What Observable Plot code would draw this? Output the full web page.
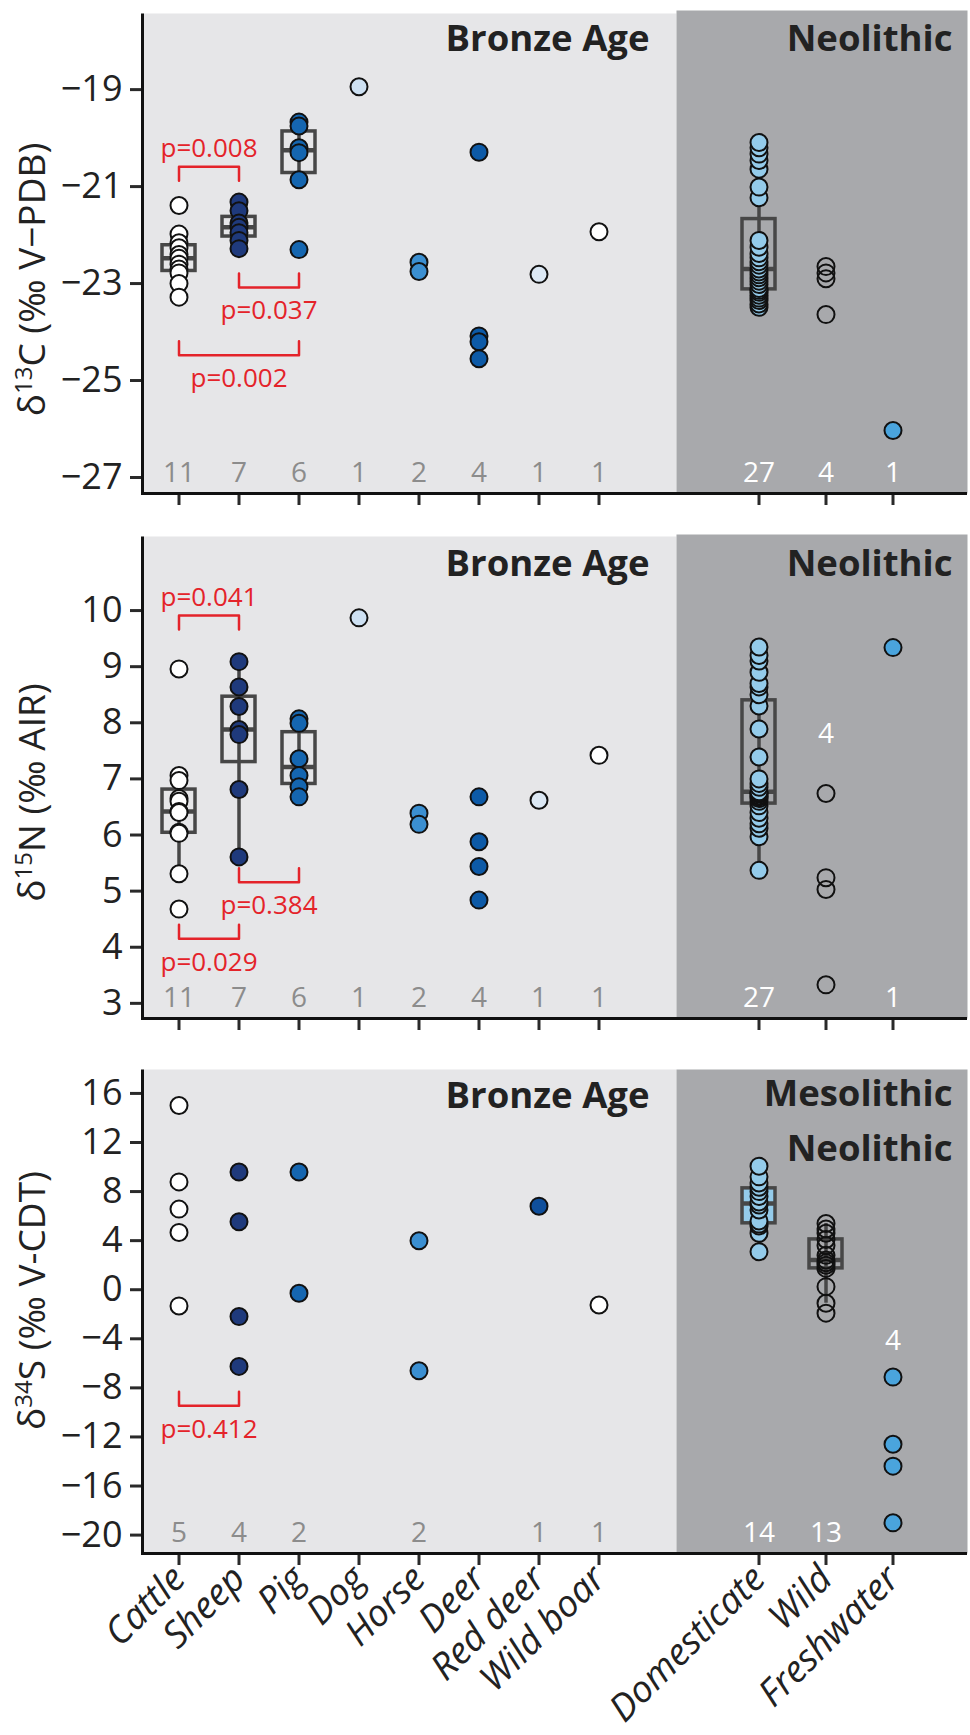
<!DOCTYPE html>
<html><head><meta charset="utf-8">
<script src="https://cdn.jsdelivr.net/npm/d3@7"></script>
<script src="https://cdn.jsdelivr.net/npm/@observablehq/plot@0.6"></script>
<style>
body{margin:0;background:#fff;}
#chart{position:relative;width:970px;height:1735px;}
#chart svg{overflow:visible;}
[aria-label^="y-axis"] line,[aria-label^="x-axis"] line,[aria-label^="y-axis"] path,[aria-label^="x-axis"] path{stroke:#2a2a2a;stroke-width:3px;}
.xl [aria-label^="x-axis"] text{font-style:italic;font-size:37px;}
</style></head><body><div id="chart"></div><script>
// ---------- categories ----------
const bronzeCats = ["Cattle","Sheep","Pig","Dog","Horse","Deer","Red deer","Wild boar"];
const neoCats = ["Domesticate","Wild","Freshwater"];

// ---------- δ13C values ----------
const c13Cattle = [-21.39,-21.98,-22.16,-22.26,-22.40,-22.48,-22.60,-22.70,-22.78,-23.00,-23.28];
const c13Sheep = [-21.32,-21.50,-21.75,-21.84,-21.95,-22.11,-22.28];
const c13Pig = [-19.67,-19.75,-20.20,-20.30,-20.86,-22.30];
const c13Dog = [-18.94];
const c13Horse = [-22.56,-22.75];
const c13Deer = [-20.29,-24.08,-24.20,-24.55];
const c13RedDeer = [-22.81];
const c13WildBoar = [-21.93];
const c13Domesticate = [-23.49,-23.42,-23.35,-23.30,-23.24,-23.18,-23.14,-23.10,-23.02,-22.95,-22.88,-22.82,-22.76,-22.70,-22.62,-22.55,-22.47,-22.38,-22.25,-22.11,-21.23,-21.01,-20.64,-20.46,-20.33,-20.20,-20.09];
const c13Wild = [-22.65,-22.78,-22.90,-23.64];
const c13Freshwater = [-26.03];
const c13Ticks = [-27,-25,-23,-21,-19];
const c13Brackets = [
  {a:"Cattle", b:"Sheep", y:-20.59, side:"above", label:"p=0.008"},
  {a:"Sheep", b:"Pig", y:-23.08, side:"below", label:"p=0.037"},
  {a:"Cattle", b:"Pig", y:-24.48, side:"below", label:"p=0.002"}
];

// ---------- δ15N values ----------
const n15Cattle = [8.96,7.06,6.97,6.65,6.60,6.42,6.40,6.05,6.03,5.31,4.68];
const n15Sheep = [9.09,8.64,8.29,7.88,7.79,6.81,5.61];
const n15Pig = [8.07,7.99,7.36,7.06,6.86,6.68];
const n15Dog = [9.87];
const n15Horse = [6.39,6.19];
const n15Deer = [6.68,5.88,5.44,4.84];
const n15RedDeer = [6.62];
const n15WildBoar = [7.42];
const n15Domesticate = [5.37,5.97,6.12,6.20,6.30,6.40,6.52,6.60,6.65,6.68,6.70,6.73,6.75,6.77,6.85,6.92,7.00,7.39,7.89,8.30,8.50,8.64,8.70,8.90,9.10,9.20,9.35];
const n15Wild = [6.74,5.24,5.03,3.33];
const n15Freshwater = [9.34];
const n15Ticks = [3,4,5,6,7,8,9,10];
const n15Brackets = [
  {a:"Cattle", b:"Sheep", y:9.91, side:"above", label:"p=0.041"},
  {a:"Sheep", b:"Pig", y:5.16, side:"below", label:"p=0.384"},
  {a:"Cattle", b:"Sheep", y:4.15, side:"below", label:"p=0.029"}
];
const n15RaisedCount = {Wild: 7.8};

// ---------- δ34S values ----------
const s34Cattle = [15.02,8.79,6.57,4.67,-1.32];
const s34Sheep = [9.60,5.54,-2.19,-6.25];
const s34Pig = [9.60,-0.29];
const s34Horse = [3.99,-6.60];
const s34RedDeer = [6.81];
const s34WildBoar = [-1.24];
const s34Domesticate = [3.10,4.60,5.20,5.35,5.60,6.50,6.90,7.15,7.60,8.00,8.35,8.70,9.20,10.07];
const s34Wild = [-1.91,-1.10,0.25,1.74,2.00,2.20,2.42,2.80,3.60,4.10,4.60,4.95,5.40];
const s34Freshwater = [-7.12,-12.60,-14.38,-19.00];
const s34Ticks = [-20,-16,-12,-8,-4,0,4,8,12,16];
const s34Brackets = [
  {a:"Cattle", b:"Sheep", y:-9.45, side:"below", label:"p=0.412"}
];
const s34RaisedCount = {Freshwater: -4.2};

// ---------- colours ----------
const catColors  = ["#ffffff","#1f3a7c","#1566b0","#cde0f2","#3b8fd1","#0d5aa7","#dce8f4","#ffffff","#94cbea","none","#4aa4dd"];
const catColorsS = ["#ffffff","#1f3a7c","#1566b0","#cde0f2","#3b8fd1","#0d5aa7","#0f4f9c","#ffffff","#94cbea","none","#4aa4dd"];

const FONT = '"Open Sans", "Liberation Sans", sans-serif';
const RED = "#e4232a";
const BOXC = "#474747";
const allCats = bronzeCats.concat(neoCats);

const panels = [
  {top:0, height:523, marginTop:13, marginBottom:30, yDomain:[-27.33,-17.43], yTicks:c13Ticks,
   title:["δ","13","C (‰ V−PDB)"], titleDy:26, neoRaise:3,
   series:{"Cattle":c13Cattle,"Sheep":c13Sheep,"Pig":c13Pig,"Dog":c13Dog,"Horse":c13Horse,"Deer":c13Deer,"Red deer":c13RedDeer,"Wild boar":c13WildBoar,"Domesticate":c13Domesticate,"Wild":c13Wild,"Freshwater":c13Freshwater},
   colors:catColors, boxCats:["Cattle","Sheep","Pig","Domesticate"], boxFill:false,
   brackets:c13Brackets, raised:{}, bronzeDy:37, neoLabel:"Neolithic", neoDy:37, neoLH:1, xLabels:false},
  {top:523, height:530, marginTop:13, marginBottom:35, yDomain:[2.73,11.32], yTicks:n15Ticks,
   title:["δ","15","N (‰ AIR)"], titleDy:15, neoRaise:2,
   series:{"Cattle":n15Cattle,"Sheep":n15Sheep,"Pig":n15Pig,"Dog":n15Dog,"Horse":n15Horse,"Deer":n15Deer,"Red deer":n15RedDeer,"Wild boar":n15WildBoar,"Domesticate":n15Domesticate,"Wild":n15Wild,"Freshwater":n15Freshwater},
   colors:catColors, boxCats:["Cattle","Sheep","Pig","Domesticate"], boxFill:false,
   brackets:n15Brackets, raised:n15RaisedCount, bronzeDy:39, neoLabel:"Neolithic", neoDy:39, neoLH:1, xLabels:false},
  {top:1053, height:682, marginTop:16, marginBottom:182, yDomain:[-21.5,17.95], yTicks:s34Ticks,
   title:["δ","34","S (‰ V-CDT)"], titleDy:-11, neoRaise:0,
   series:{"Cattle":s34Cattle,"Sheep":s34Sheep,"Pig":s34Pig,"Horse":s34Horse,"Red deer":s34RedDeer,"Wild boar":s34WildBoar,"Domesticate":s34Domesticate,"Wild":s34Wild,"Freshwater":s34Freshwater},
   colors:catColorsS, boxCats:["Domesticate","Wild"], boxFill:true,
   brackets:s34Brackets, raised:s34RaisedCount, bronzeDy:38, neoLabel:"Mesolithic\nNeolithic", neoDy:91, neoLH:1.5714, xLabels:true}
];

function fmtTick(d){ return d < 0 ? "\u2212" + Math.abs(d) : String(d); }
function whiskerLo(V){ const q1=d3.quantile(V,.25), q3=d3.quantile(V,.75), r=1.5*(q3-q1); return d3.min(V.filter(v => v >= q1 - r)); }
function whiskerHi(V){ const q1=d3.quantile(V,.25), q3=d3.quantile(V,.75), r=1.5*(q3-q1); return d3.max(V.filter(v => v <= q3 + r)); }

const chart = document.getElementById("chart");
const NEO_LEFT = 500;      // neolithic svg starts here (its plot area begins at 676)

panels.forEach(p => {
  const wrap = document.createElement("div");
  wrap.className = p.xLabels ? "xl" : "";
  wrap.style.cssText = `position:absolute;left:0;top:${p.top}px;width:970px;height:${p.height}px;`;
  chart.appendChild(wrap);
  const H = p.height;
  const plotH = H - p.marginTop - p.marginBottom;
  const tip = 14 * (p.yDomain[1] - p.yDomain[0]) / plotH;
  const rows = allCats.flatMap(c => (p.series[c] || []).map(v => ({cat: c, v})));

  [true, false].forEach(isBronze => {
    const cats = isBronze ? bronzeCats : neoCats;
    const data = rows.filter(d => cats.includes(d.cat));
    const boxData = data.filter(d => p.boxCats.includes(d.cat));
    const counts = cats.filter(c => p.series[c] && p.series[c].length && !(c in p.raised))
      .map(c => ({cat: c, n: String(p.series[c].length)}));
    const raised = cats.filter(c => c in p.raised)
      .map(c => ({cat: c, n: String(p.series[c].length), y: p.raised[c]}));
    const W = isBronze ? 676 : 970 - NEO_LEFT;
    const mL = isBronze ? 142 : 676 - NEO_LEFT, mR = isBronze ? 0 : 3;
    const plotW = W - mL - mR;
    const marks = [
      Plot.frame({fill: isBronze ? "#e6e6e8" : "#a8a9ac", stroke: "none", insetTop: isBronze ? 0 : -p.neoRaise}),
      Plot.ruleX(boxData, Plot.groupX({y1: whiskerLo, y2: whiskerHi}, {x: "cat", y: "v", stroke: BOXC, strokeWidth: 3.5})),
      Plot.barY(boxData, Plot.groupX({y1: "p25", y2: "p75"}, {x: "cat", y: "v", fill: p.boxFill ? "cat" : "none", stroke: BOXC, strokeWidth: 3.5})),
      Plot.tickY(boxData, Plot.groupX({y: "p50"}, {x: "cat", y: "v", stroke: BOXC, strokeWidth: 4.5})),
      Plot.dot(data, {x: "cat", y: "v", r: 8.5, fill: "cat", stroke: "#111", strokeWidth: 2})
    ];
    if (isBronze) {
      const pts = p.brackets.flatMap((b, i) => {
        const dir = b.side === "above" ? -1 : 1;
        return [
          {id: i, x: b.a, y: b.y + dir * tip},
          {id: i, x: b.a, y: b.y},
          {id: i, x: b.b, y: b.y},
          {id: i, x: b.b, y: b.y + dir * tip}
        ];
      });
      marks.push(Plot.line(pts, {x: "x", y: "y", z: "id", stroke: RED, strokeWidth: 2.5}));
      p.brackets.forEach(b => {
        marks.push(Plot.text([b], {x: "a", y: "y", text: "label", fill: RED, fontSize: 26,
          textAnchor: "middle", lineAnchor: "bottom",
          dx: (bronzeCats.indexOf(b.b) - bronzeCats.indexOf(b.a)) * 30,
          dy: b.side === "above" ? -10 : 32}));
      });
      marks.push(Plot.text([p.title.join("")], {frameAnchor: "left", rotate: -90, textAnchor: "middle",
        lineAnchor: "bottom", dx: -98, dy: p.titleDy, fontSize: 37, fill: "#222"}));
      marks.push(Plot.text(["Bronze Age"], {frameAnchor: "top-right", textAnchor: "end", lineAnchor: "bottom",
        dx: -27, dy: p.bronzeDy, fontSize: 36.5, fontWeight: 700, fill: "#222"}));
      marks.push(Plot.frame({stroke: "#111", strokeWidth: 3, fill: "none",
        strokeDasharray: `0 ${plotW + plotH} ${plotW + plotH}`}));
    } else {
      marks.push(Plot.text([p.neoLabel], {frameAnchor: "top-right", textAnchor: "end", lineAnchor: "bottom",
        dx: -15, dy: p.neoDy, fontSize: 36.5, fontWeight: 700, fill: "#222", lineHeight: p.neoLH * 35 / 36.5}));
      marks.push(Plot.ruleY([p.yDomain[0]], {stroke: "#111", strokeWidth: 3}));
    }
    marks.push(Plot.text(counts, {x: "cat", text: "n", frameAnchor: "bottom", lineAnchor: "bottom", dy: -12,
      fontSize: 28, fill: isBronze ? "#8c8c8c" : "#ffffff"}));
    marks.push(Plot.text(raised, {x: "cat", y: "y", text: "n", lineAnchor: "middle",
      fontSize: 28, fill: isBronze ? "#8c8c8c" : "#ffffff"}));

    const xTick = {tickSize: 12, tickPadding: 7, tickRotate: p.xLabels ? -45 : 0,
                   tickFormat: p.xLabels ? (d => d) : (() => ""), label: null};
    const svg = Plot.plot({
      width: W, height: H, marginLeft: mL, marginRight: mR, marginTop: p.marginTop, marginBottom: p.marginBottom,
      style: {fontFamily: FONT, fontSize: "36px", color: "#222", overflow: "visible", background: "none"},
      x: isBronze
        ? {type: "band", domain: bronzeCats, paddingInner: 0.45, paddingOuter: 0, insetLeft: 19.5, insetRight: 61.5, ...xTick}
        : {type: "band", domain: neoCats, paddingInner: 0.5111, paddingOuter: 0, insetLeft: 65.5, insetRight: 57.5, ...xTick},
      y: isBronze
        ? {domain: p.yDomain, ticks: p.yTicks, tickSize: 12, tickPadding: 8, tickFormat: fmtTick, label: null}
        : {domain: p.yDomain, axis: null},
      color: {type: "ordinal", domain: allCats, range: p.colors},
      marks
    });
    // superscript in the y-axis title
    if (isBronze) {
      const full = p.title.join("");
      const ns = "http://www.w3.org/2000/svg";
      svg.querySelectorAll("text").forEach(t => {
        if (t.textContent === full) {
          t.textContent = "";
          const a = document.createElementNS(ns, "tspan"); a.textContent = p.title[0];
          const b = document.createElementNS(ns, "tspan"); b.textContent = p.title[1];
          b.setAttribute("font-size", "24"); b.setAttribute("dy", "-13");
          const c = document.createElementNS(ns, "tspan"); c.textContent = p.title[2]; c.setAttribute("dy", "13");
          t.append(a, b, c);
        }
      });
    }
    svg.style.position = "absolute";
    svg.style.left = (isBronze ? 0 : NEO_LEFT) + "px";
    svg.style.top = "0px";
    wrap.appendChild(svg);
  });
});
</script></body></html>
